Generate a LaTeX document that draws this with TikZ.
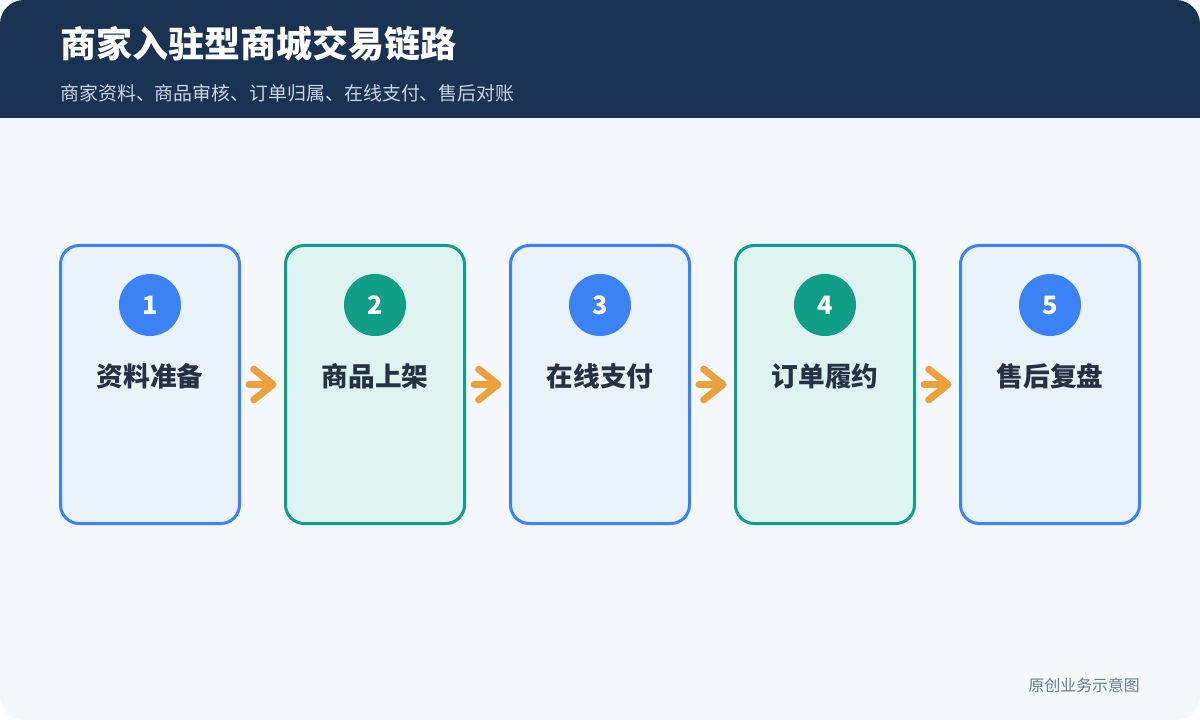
\documentclass[tikz,border=0pt]{standalone}
\usepackage{fontspec}
\setmainfont{Noto Sans CJK SC}
\usetikzlibrary{arrows.meta}
\definecolor{hdr}{HTML}{1A3352}
\definecolor{pagebg}{HTML}{F4F8FC}
\definecolor{subc}{HTML}{C8D5E4}
\definecolor{bluec}{HTML}{3B82F6}
\definecolor{bluefill}{HTML}{E9F1F9}
\definecolor{greenc}{HTML}{119E89}
\definecolor{greenfill}{HTML}{DEF3EF}
\definecolor{textc}{HTML}{253244}
\definecolor{arrowc}{HTML}{EBA23B}
\definecolor{footc}{HTML}{6B7B90}
\begin{document}
\begin{tikzpicture}[x=0.75pt,y=-0.75pt,
  stepcard/.style={draw=#1c, fill=#1fill, line width=2.25pt, rounded corners=14pt,
    minimum width=134.25pt, minimum height=208.5pt, inner sep=0pt},
  badge/.style={circle, fill=#1c, text=white, minimum size=46.5pt, inner sep=0pt,
    font=\bfseries\fontsize{19}{19}\selectfont},
  steplabel/.style={text=textc, inner sep=0pt, font=\bfseries\fontsize{20}{20}\selectfont},
  flow/.style={draw=arrowc, line width=5.25pt, line cap=round,
    -{Straight Barb[length=14.5pt,width=23pt,round]}, shorten <=6pt, shorten >=5.6pt}]
\useasboundingbox (0,0) rectangle (1200,720);
\fill[white] (0,0) rectangle (1200,720);
\begin{scope}
  \clip[rounded corners=18pt] (0,0) rectangle (1200,720);
  \fill[pagebg] (0,0) rectangle (1200,720);
  \fill[hdr] (0,0) rectangle (1200,118);
\end{scope}
\node[anchor=west, inner sep=0pt, text=white, font=\bfseries\fontsize{27}{27}\selectfont] (title) at (60,44) {商家入驻型商城交易链路};
\node[anchor=west, inner sep=0pt, text=subc, font=\fontsize{14.2}{14.2}\selectfont] (sub) at (60,93) {商家资料、商品审核、订单归属、在线支付、售后对账};

\node[stepcard=blue]  (s1) at (150,384.5) {};
\node[stepcard=green] (s2) at (375,384.5) {};
\node[stepcard=blue]  (s3) at (600,384.5) {};
\node[stepcard=green] (s4) at (825,384.5) {};
\node[stepcard=blue]  (s5) at (1050,384.5) {};

\node[badge=blue]  (b1) at (150,305) {1};
\node[badge=green] (b2) at (375,305) {2};
\node[badge=blue]  (b3) at (600,305) {3};
\node[badge=green] (b4) at (825,305) {4};
\node[badge=blue]  (b5) at (1050,305) {5};

\node[steplabel] (l1) at (150,376) {资料准备};
\node[steplabel] (l2) at (375,376) {商品上架};
\node[steplabel] (l3) at (600,376) {在线支付};
\node[steplabel] (l4) at (825,376) {订单履约};
\node[steplabel] (l5) at (1050,376) {售后复盘};

\draw[flow] (s1.east) -- (s2.west);
\draw[flow] (s2.east) -- (s3.west);
\draw[flow] (s3.east) -- (s4.west);
\draw[flow] (s4.east) -- (s5.west);

\node[anchor=east, inner sep=0pt, text=footc, font=\fontsize{11.9}{11.9}\selectfont] (foot) at (1140,685) {原创业务示意图};
\end{tikzpicture}
\end{document}
